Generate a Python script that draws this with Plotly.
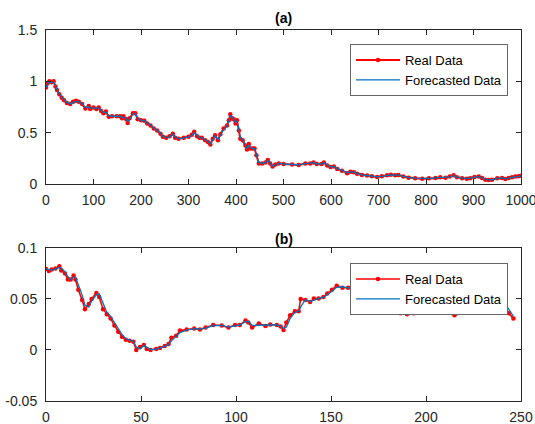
import plotly.graph_objects as go

# ---------------- data ----------------
x_a = [0, 3, 7, 12, 16, 20, 23, 28, 33, 38,
       44, 51, 57, 63, 69, 76, 83, 90, 93, 100,
       106, 111, 116, 121, 126, 132, 139, 149, 156, 160,
       163, 169, 172, 176, 183, 188, 193, 200, 207, 213,
       220, 227, 234, 241, 246, 253, 260, 267, 272, 279,
       290, 300, 307, 312, 318, 323, 328, 335, 341, 346,
       351, 356, 362, 367, 374, 381, 385, 388, 392, 395,
       399, 402, 406, 409, 414, 420, 423, 427, 430, 435,
       439, 443, 448, 455, 462, 467, 472, 477, 483, 490,
       500, 518, 532, 546, 556, 563, 570, 580, 585, 592,
       599, 606, 613, 623, 634, 641, 648, 655, 665, 676,
       686, 697, 707, 718, 726, 735, 742, 752, 763, 777,
       792, 806, 820, 830, 841, 850, 858, 865, 876, 886,
       893, 902, 911, 918, 925, 932, 939, 950, 960, 967,
       974, 981, 988, 995, 1000]

real_a = [0.94, 0.98, 1.00, 0.99, 1.00, 0.95, 0.915, 0.875, 0.84, 0.815,
          0.79, 0.78, 0.80, 0.81, 0.80, 0.78, 0.735, 0.76, 0.73, 0.745,
          0.73, 0.745, 0.71, 0.69, 0.705, 0.655, 0.66, 0.66, 0.66, 0.64,
          0.66, 0.63, 0.595, 0.64, 0.69, 0.69, 0.63, 0.62, 0.615, 0.59,
          0.57, 0.54, 0.52, 0.49, 0.46, 0.45, 0.465, 0.49, 0.45, 0.44,
          0.45, 0.46, 0.48, 0.51, 0.465, 0.45, 0.45, 0.425, 0.41, 0.385,
          0.44, 0.475, 0.425, 0.485, 0.54, 0.57, 0.62, 0.68, 0.64, 0.63,
          0.59, 0.62, 0.52, 0.44, 0.425, 0.375, 0.335, 0.39, 0.345, 0.345,
          0.345, 0.28, 0.20, 0.20, 0.21, 0.235, 0.20, 0.17, 0.19, 0.20,
          0.195, 0.19, 0.186, 0.20, 0.20, 0.21, 0.195, 0.195, 0.21, 0.18,
          0.165, 0.17, 0.147, 0.13, 0.105, 0.12, 0.115, 0.10, 0.088, 0.082,
          0.075, 0.069, 0.075, 0.085, 0.09, 0.085, 0.088, 0.072, 0.062, 0.056,
          0.052, 0.056, 0.059, 0.065, 0.062, 0.072, 0.085, 0.065, 0.056, 0.052,
          0.056, 0.069, 0.072, 0.059, 0.042, 0.039, 0.042, 0.056, 0.059, 0.049,
          0.059, 0.065, 0.072, 0.075, 0.08]

forecast_a = [0.94, 0.97, 0.99, 0.99, 0.99, 0.96, 0.92, 0.88, 0.845, 0.82,
              0.795, 0.78, 0.795, 0.805, 0.80, 0.785, 0.745, 0.75, 0.74, 0.74,
              0.735, 0.74, 0.72, 0.695, 0.70, 0.665, 0.66, 0.66, 0.66, 0.645,
              0.655, 0.635, 0.605, 0.63, 0.68, 0.69, 0.64, 0.62, 0.615, 0.595,
              0.575, 0.545, 0.525, 0.495, 0.465, 0.45, 0.46, 0.485, 0.46, 0.44,
              0.45, 0.46, 0.475, 0.50, 0.475, 0.455, 0.45, 0.43, 0.415, 0.39,
              0.43, 0.47, 0.435, 0.475, 0.53, 0.565, 0.61, 0.67, 0.65, 0.63,
              0.60, 0.61, 0.54, 0.455, 0.43, 0.385, 0.345, 0.38, 0.355, 0.345,
              0.345, 0.29, 0.21, 0.20, 0.21, 0.23, 0.205, 0.175, 0.185, 0.20,
              0.195, 0.19, 0.187, 0.198, 0.20, 0.208, 0.197, 0.195, 0.207, 0.185,
              0.168, 0.17, 0.15, 0.132, 0.108, 0.118, 0.115, 0.102, 0.089, 0.083,
              0.076, 0.07, 0.074, 0.083, 0.089, 0.086, 0.087, 0.074, 0.063, 0.057,
              0.053, 0.055, 0.059, 0.064, 0.063, 0.07, 0.082, 0.068, 0.057, 0.053,
              0.055, 0.067, 0.071, 0.061, 0.045, 0.04, 0.041, 0.054, 0.059, 0.051,
              0.058, 0.064, 0.071, 0.074, 0.079]

x_b = [0, 1.5, 3, 5, 7, 8, 10, 11.5, 13, 14.5,
       15.5, 17, 19, 20.5, 22.5, 24, 26.5, 28, 30, 32,
       34, 36, 38, 40, 42, 44, 46, 47.5, 49.5, 51.5,
       53, 55, 58, 60, 62.5, 64.5, 66, 68.5, 70.5, 74,
       78, 81, 84, 88, 92.5, 96, 99.5, 102, 105, 106.5,
       108.5, 112, 115.5, 118, 121.5, 123.5, 125, 126.5, 128.5, 131,
       133, 134, 136.5, 139, 141, 143.5, 146, 148, 150.5, 153,
       156, 159, 163, 167, 171, 175, 178, 180.5, 182, 184.5,
       186.5, 190, 193.5, 196, 198, 201.5, 204, 206, 209.5, 212,
       215, 217, 219, 222, 226, 230, 234, 238, 241, 243.5,
       246]

real_b = [0.0795, 0.0775, 0.079, 0.080, 0.082, 0.078, 0.075, 0.069, 0.069, 0.073,
          0.069, 0.059, 0.049, 0.040, 0.045, 0.050, 0.056, 0.052, 0.040, 0.035,
          0.031, 0.024, 0.018, 0.013, 0.010, 0.009, 0.008, 0.000, 0.003, 0.005,
          0.001, 0.000, 0.001, 0.002, 0.004, 0.006, 0.012, 0.014, 0.019, 0.020,
          0.021, 0.020, 0.022, 0.0245, 0.024, 0.022, 0.0245, 0.0245, 0.029, 0.027,
          0.022, 0.026, 0.0235, 0.025, 0.0245, 0.023, 0.0195, 0.027, 0.034, 0.038,
          0.038, 0.050, 0.049, 0.047, 0.0505, 0.0505, 0.052, 0.0555, 0.059, 0.063,
          0.061, 0.061, 0.061, 0.060, 0.058, 0.054, 0.048, 0.044, 0.042, 0.041,
          0.036, 0.035, 0.036, 0.039, 0.042, 0.043, 0.044, 0.0415, 0.043, 0.044,
          0.034, 0.041, 0.045, 0.050, 0.054, 0.056, 0.055, 0.051, 0.044, 0.036,
          0.031]

forecast_b = [0.0795, 0.0790, 0.0780, 0.0795, 0.0810, 0.0805, 0.0765, 0.0720, 0.0690, 0.0715,
              0.0715, 0.0640, 0.0540, 0.0440, 0.0420, 0.0480, 0.0540, 0.0550, 0.0450, 0.0370,
              0.0330, 0.0270, 0.0200, 0.0150, 0.0110, 0.0095, 0.0085, 0.0030, 0.0010, 0.0045,
              0.0030, 0.0005, 0.0008, 0.0018, 0.0035, 0.0055, 0.0090, 0.0135, 0.0170, 0.0195,
              0.0210, 0.0205, 0.0215, 0.0240, 0.0242, 0.0225, 0.0238, 0.0245, 0.0280, 0.0280,
              0.0240, 0.0245, 0.0245, 0.0245, 0.0245, 0.0235, 0.0210, 0.0225, 0.0310, 0.0370,
              0.0380, 0.0420, 0.0495, 0.0475, 0.0490, 0.0505, 0.0515, 0.0540, 0.0575, 0.0615,
              0.0620, 0.0610, 0.0610, 0.0600, 0.0585, 0.0555, 0.0505, 0.0460, 0.0430, 0.0415,
              0.0385, 0.0350, 0.0355, 0.0380, 0.0410, 0.0425, 0.0440, 0.0425, 0.0425, 0.0440,
              0.0370, 0.0370, 0.0440, 0.0480, 0.0530, 0.0555, 0.0555, 0.0520, 0.0470, 0.0400,
              0.0330]

xticks_a = [0, 100, 200, 300, 400, 500, 600, 700, 800, 900, 1000]
yticks_a = [0, 0.5, 1, 1.5]
yticklabels_a = ["0", "0.5", "1", "1.5"]
xticks_b = [0, 50, 100, 150, 200, 250]
yticks_b = [-0.05, 0, 0.05, 0.1]
yticklabels_b = ["-0.05", "0", "0.05", "0.1"]

series_names = ["Real Data", "Forecasted Data"]
titles = ["(a)", "(b)"]

# ---------------- styling ----------------
RED = "#FF0000"
BLUE = "#0072BD"
AX = "#262626"
FONT = "Liberation Sans, Arial, Helvetica, sans-serif"

fig = go.Figure()

fig.add_trace(go.Scatter(x=x_a, y=real_a, name=series_names[0], mode="lines+markers",
                         line=dict(color=RED, width=2.0),
                         marker=dict(color=RED, size=4.5, symbol="circle", line=dict(width=0)),
                         xaxis="x", yaxis="y", legend="legend"))
fig.add_trace(go.Scatter(x=x_a, y=forecast_a, name=series_names[1], mode="lines",
                         line=dict(color=BLUE, width=1.3),
                         xaxis="x", yaxis="y", legend="legend"))
fig.add_trace(go.Scatter(x=x_b, y=real_b, name=series_names[0], mode="lines+markers",
                         line=dict(color=RED, width=1.6),
                         marker=dict(color=RED, size=4.5, symbol="circle", line=dict(width=0)),
                         xaxis="x2", yaxis="y2", legend="legend2"))
fig.add_trace(go.Scatter(x=x_b, y=forecast_b, name=series_names[1], mode="lines",
                         line=dict(color=BLUE, width=1.3),
                         xaxis="x2", yaxis="y2", legend="legend2"))

axis_common = dict(showline=True, linecolor=AX, linewidth=1, mirror="ticks",
                   ticks="inside", ticklen=5, tickcolor=AX, tickwidth=1,
                   showgrid=False, zeroline=False, automargin=False,
                   ticklabeloverflow="allow",
                   tickfont=dict(family=FONT, size=14, color=AX))

legend_common = dict(bgcolor="white", bordercolor="#666666", borderwidth=1,
                     font=dict(family=FONT, size=13, color="#000000"),
                     xanchor="right", yanchor="top", tracegroupgap=0,
                     itemwidth=44)

top_dom = [0.5849, 1.0]
bot_dom = [0.0, 0.4124]

fig.update_layout(
    width=535, height=424,
    margin=dict(l=46, r=14, t=30, b=23, autoexpand=False),
    paper_bgcolor="white", plot_bgcolor="white",
    font=dict(family=FONT, color=AX),
    xaxis=dict(axis_common, domain=[0, 1], range=[0, 1000], anchor="y",
               tickmode="array", tickvals=xticks_a, ticktext=[str(v) for v in xticks_a],
               ticklabelstandoff=3),
    yaxis=dict(axis_common, domain=top_dom, range=[0, 1.5], anchor="x",
               tickmode="array", tickvals=yticks_a, ticktext=yticklabels_a,
               ticklabelstandoff=5),
    xaxis2=dict(axis_common, domain=[0, 1], range=[0, 250], anchor="y2",
                tickmode="array", tickvals=xticks_b, ticktext=[str(v) for v in xticks_b],
                ticklabelstandoff=3),
    yaxis2=dict(axis_common, domain=bot_dom, range=[-0.05, 0.1], anchor="x2",
                tickmode="array", tickvals=yticks_b, ticktext=yticklabels_b,
                ticklabelstandoff=5),
    legend=dict(legend_common, x=0.9726, y=0.9623),
    legend2=dict(legend_common, x=0.9726, y=0.372),
    showlegend=True,
    annotations=[
        dict(text="<b>" + titles[0] + "</b>", x=0.5, y=1.032, xref="paper", yref="paper",
             xanchor="center", yanchor="middle", showarrow=False,
             font=dict(family=FONT, size=14, color="#000000")),
        dict(text="<b>" + titles[1] + "</b>", x=0.5, y=0.4367, xref="paper", yref="paper",
             xanchor="center", yanchor="middle", showarrow=False,
             font=dict(family=FONT, size=14, color="#000000")),
    ],
)

fig.write_html("out.html", config={"displayModeBar": False},
               post_script="document.body.style.margin='0';document.body.style.overflow='hidden';")
